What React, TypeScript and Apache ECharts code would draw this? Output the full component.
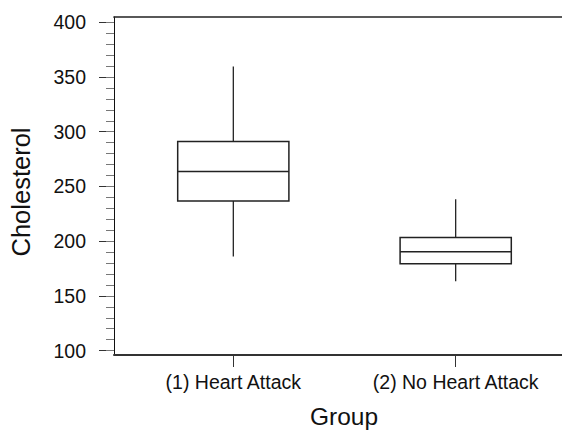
import React, { useEffect, useRef } from "react";
import * as echarts from "echarts";

const groups = ["(1) Heart Attack", "(2) No Heart Attack"];
const groupPositions = [1, 2];
const whiskerLow = [186, 163.3];
const quartile1 = [236.6, 179.4];
const medianVals = [263.6, 190.4];
const quartile3 = [291, 203.4];
const whiskerHigh = [359.5, 238.4];
const yMajorTicks = [100, 150, 200, 250, 300, 350, 400];
const yMinorTicks = [
  100, 110, 120, 130, 140, 150, 160, 170, 180, 190, 200, 210, 220, 230, 240,
  250, 260, 270, 280, 290, 300, 310, 320, 330, 340, 350, 360, 370, 380, 390, 400,
];

const FONT = "'Liberation Sans', Arial, Helvetica, sans-serif";
const BOX_WIDTH_UNITS = 0.5;
const X_MIN = 0.4636;
const X_MAX = 0.4636 + 448 / 222.4;
const Y_MIN = 96;
const Y_MAX = 404.8;

export default function App() {
  const ref = useRef<HTMLDivElement>(null);

  useEffect(() => {
    if (!ref.current) return;
    const chart = echarts.init(ref.current, undefined, { renderer: "svg" });
    const data = groups.map((_, i) => [
      groupPositions[i],
      whiskerLow[i],
      quartile1[i],
      medianVals[i],
      quartile3[i],
      whiskerHigh[i],
    ]);

    chart.setOption({
      animation: false,
      backgroundColor: "#ffffff",
      grid: { left: 114, right: 0, top: 17, bottom: 75, containLabel: false },
      xAxis: [
        {
          type: "value",
          position: "bottom",
          min: X_MIN,
          max: X_MAX,
          axisLine: { show: true, lineStyle: { color: "#333", width: 2 } },
          axisTick: {
            show: true,
            customValues: groupPositions,
            length: 12,
            lineStyle: { color: "#333", width: 1 },
          },
          axisLabel: {
            show: true,
            customValues: groupPositions,
            formatter: (v: number) => groups[Math.round(v) - 1] ?? "",
            fontSize: 19.5,
            fontFamily: FONT,
            color: "#111",
            margin: 17,
          },
          splitLine: { show: false },
        },
        {
          type: "value",
          position: "top",
          min: X_MIN,
          max: X_MAX,
          axisLine: { show: true, lineStyle: { color: "#222", width: 1.7 } },
          axisTick: { show: false },
          axisLabel: { show: false },
          splitLine: { show: false },
        },
      ],
      yAxis: [
        {
          type: "value",
          position: "left",
          min: Y_MIN,
          max: Y_MAX,
          axisLine: { show: true, lineStyle: { color: "#111", width: 1 } },
          axisTick: {
            show: true,
            customValues: yMajorTicks,
            length: 15,
            lineStyle: { color: "#333", width: 1 },
          },
          axisLabel: {
            show: true,
            customValues: yMajorTicks,
            fontSize: 19.5,
            fontFamily: FONT,
            color: "#111",
            margin: 28,
          },
          splitLine: { show: false },
        },
        {
          type: "value",
          position: "left",
          min: Y_MIN,
          max: Y_MAX,
          axisLine: { show: false },
          axisTick: {
            show: true,
            customValues: yMinorTicks,
            length: 8,
            lineStyle: { color: "#777", width: 1 },
          },
          axisLabel: { show: false },
          splitLine: { show: false },
        },
      ],
      graphic: [
        {
          type: "text",
          x: 21,
          y: 192,
          rotation: Math.PI / 2,
          style: {
            text: "Cholesterol",
            fontSize: 25.5,
            fontFamily: FONT,
            fill: "#111",
            align: "center",
            verticalAlign: "middle",
          },
        },
        {
          type: "text",
          x: 344,
          y: 416,
          style: {
            text: "Group",
            fontSize: 24.5,
            fontFamily: FONT,
            fill: "#111",
            align: "center",
            verticalAlign: "middle",
          },
        },
      ],
      series: [
        {
          type: "custom",
          xAxisIndex: 0,
          yAxisIndex: 0,
          encode: { x: 0, y: [1, 2, 3, 4, 5] },
          data,
          renderItem: (params: any, api: any) => {
            const x = api.value(0);
            const lo = api.coord([x, api.value(1)]);
            const b1 = api.coord([x, api.value(2)]);
            const md = api.coord([x, api.value(3)]);
            const b3 = api.coord([x, api.value(4)]);
            const hi = api.coord([x, api.value(5)]);
            const w = api.size([BOX_WIDTH_UNITS, 0])[0];
            return {
              type: "group",
              children: [
                {
                  type: "line",
                  shape: { x1: hi[0], y1: hi[1], x2: b3[0], y2: b3[1] },
                  style: { stroke: "#111", lineWidth: 1.2 },
                },
                {
                  type: "line",
                  shape: { x1: lo[0], y1: lo[1], x2: b1[0], y2: b1[1] },
                  style: { stroke: "#111", lineWidth: 1.2 },
                },
                {
                  type: "rect",
                  shape: {
                    x: b3[0] - w / 2,
                    y: b3[1],
                    width: w,
                    height: b1[1] - b3[1],
                  },
                  style: { fill: "#ffffff", stroke: "#222", lineWidth: 1.5 },
                },
                {
                  type: "line",
                  shape: {
                    x1: md[0] - w / 2,
                    y1: md[1],
                    x2: md[0] + w / 2,
                    y2: md[1],
                  },
                  style: { stroke: "#222", lineWidth: 1.5 },
                },
              ],
            };
          },
        },
      ],
    });

    return () => {
      chart.dispose();
    };
  }, []);

  return (
    <div
      ref={ref}
      style={{ position: "absolute", left: 0, top: 0, width: 562, height: 430 }}
    />
  );
}
